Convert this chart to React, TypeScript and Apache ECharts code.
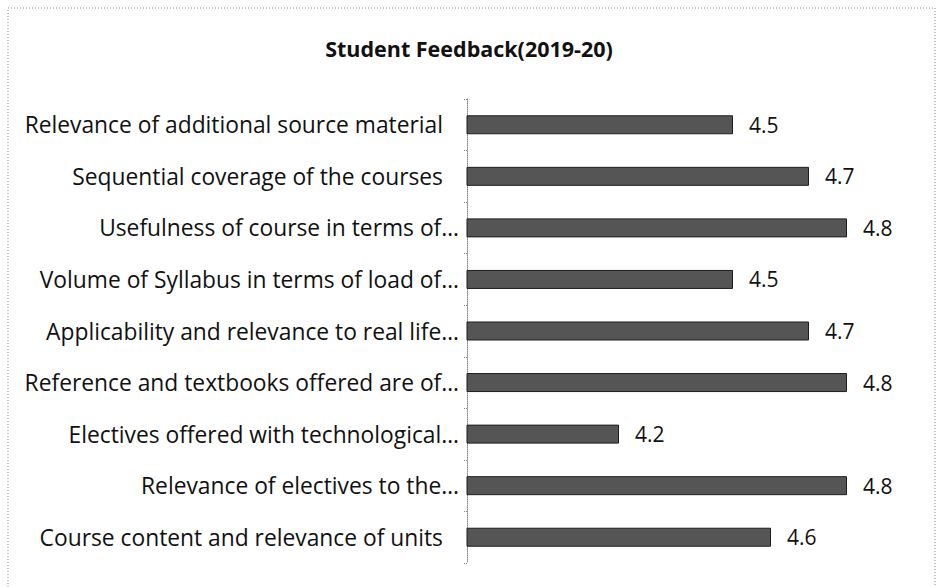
import React, { useEffect, useRef } from "react";
import * as echarts from "echarts";

const titleText = "Student Feedback(2019-20)";
const categories = [
  "Relevance of additional source material",
  "Sequential coverage of the courses",
  "Usefulness of course in terms of…",
  "Volume of Syllabus in terms of load of…",
  "Applicability and relevance to real life…",
  "Reference and textbooks offered are of…",
  "Electives offered with technological…",
  "Relevance of electives to the…",
  "Course content and relevance of units",
];
const values = [4.5, 4.7, 4.8, 4.5, 4.7, 4.8, 4.2, 4.8, 4.6];
const axisMin = 3.8;
const axisMax = 5.0;

const FONT = "Open Sans";
const LABEL_SIZE = 22.8;

export default function App() {
  const ref = useRef<HTMLDivElement>(null);
  useEffect(() => {
    if (!ref.current) return;
    const chart = echarts.init(ref.current, undefined, { renderer: "svg" });
    const labelStyle = { fontFamily: FONT, fontSize: LABEL_SIZE, color: "#111" };
    chart.setOption({
      animation: false,
      backgroundColor: "#ffffff",
      title: {
        text: titleText,
        left: "center",
        top: 32,
        textStyle: { fontFamily: FONT, fontSize: 21.5, fontWeight: "bold", color: "#111" },
      },
      graphic: [
        {
          type: "rect",
          shape: { x: 8, y: 8, width: 927, height: 600 },
          style: { fill: "none", stroke: "#888", lineWidth: 1, lineDash: [1, 2] },
          silent: true,
        },
      ],
      grid: { left: 467, top: 99, width: 456, height: 464, containLabel: false },
      xAxis: {
        type: "value",
        min: axisMin,
        max: axisMax,
        show: false,
        splitLine: { show: false },
      },
      yAxis: {
        type: "category",
        inverse: true,
        data: categories,
        axisLine: { show: true, lineStyle: { color: "#888", type: "dotted", width: 1 } },
        axisTick: { show: true, length: 4, lineStyle: { color: "#888", type: "dotted" } },
        axisLabel: {
          ...labelStyle,
          margin: 8,
          formatter: (v: string) => (v.endsWith("…") ? `{e|${v}}` : `{p|${v}}`),
          rich: {
            e: { ...labelStyle },
            p: { ...labelStyle, padding: [0, 16, 0, 0] },
          },
        },
      },
      series: [
        {
          type: "bar",
          data: values,
          barWidth: 19,
          itemStyle: { color: "#555555", borderColor: "#1e1e1e", borderWidth: 1 },
          label: {
            show: true,
            position: "right",
            distance: 16,
            fontFamily: FONT,
            fontSize: 21,
            color: "#111",
            formatter: (p: any) => p.value.toFixed(1),
          },
        },
      ],
    });
    return () => chart.dispose();
  }, []);
  return (
    <div
      ref={ref}
      style={{ position: "fixed", left: 0, top: 0, width: 938, height: 587 }}
    />
  );
}
